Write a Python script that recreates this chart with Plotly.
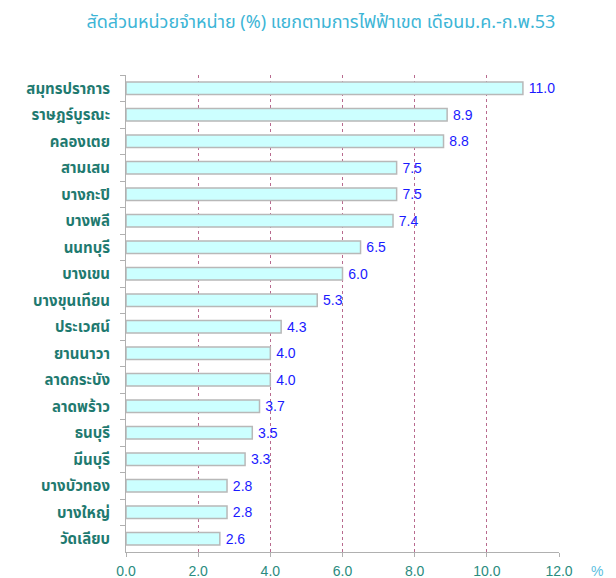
import plotly.graph_objects as go

# share of units sold (%) by district office, Jan-Feb 53
districts = ["สมุทรปราการ", "ราษฎร์บูรณะ", "คลองเตย", "สามเสน", "บางกะปิ", "บางพลี",
             "นนทบุรี", "บางเขน", "บางขุนเทียน", "ประเวศน์", "ยานนาวา", "ลาดกระบัง",
             "ลาดพร้าว", "ธนบุรี", "มีนบุรี", "บางบัวทอง", "บางใหญ่", "วัดเลียบ"]
shares = [11.0, 8.9, 8.8, 7.5, 7.5, 7.4, 6.5, 6.0, 5.3, 4.3, 4.0, 4.0, 3.7, 3.5, 3.3, 2.8, 2.8, 2.6]
x_ticks = [0, 2, 4, 6, 8, 10, 12]

title = "สัดส่วนหน่วยจำหน่าย (%) แยกตามการไฟฟ้าเขต เดือนม.ค.-ก.พ.53"

fig = go.Figure(go.Bar(
    x=shares,
    y=districts,
    orientation="h",
    marker=dict(color="#ccffff", line=dict(color="#b8b8b8", width=1.5)),
    text=[f"\u2009{v:.1f}" for v in shares],  # thin space for a small gap after the bar
    textposition="outside",
    constraintext="none",
    textfont=dict(family="Liberation Sans, Arial", size=14, color="#1a1aff"),
    cliponaxis=False,
    width=0.48,
))

# page body adds an 8px offset, margins are adjusted for it
fig.update_layout(
    width=616, height=578,
    margin=dict(l=118, r=65, t=67, b=34),
    plot_bgcolor="white", paper_bgcolor="white",
    showlegend=False,
    title=dict(text=title, x=0.508, xanchor="center", y=0.977, yanchor="middle",
               font=dict(family="Tahoma, Noto Sans Thai, Liberation Sans", size=18, color="#3db5d6")),
    xaxis=dict(range=[0, 12], tickvals=x_ticks, ticktext=[f"{v:.1f}" for v in x_ticks],
               showgrid=True, gridcolor="#b86a8e", griddash="dot", gridwidth=1,
               zeroline=False, showline=True, linecolor="#b0b0b0", linewidth=1,
               ticks="outside", ticklen=4, tickcolor="#b0b0b0", automargin=False,
               ticklabelstandoff=2,
               tickfont=dict(family="Liberation Sans, Arial", size=14, color="#2a8c80")),
    yaxis=dict(autorange="reversed", showline=True, linecolor="#b0b0b0", linewidth=1,
               ticks="outside", ticklen=5, tickcolor="#b0b0b0", tickson="boundaries",
               showgrid=False, ticklabelstandoff=12, automargin=False,
               tickfont=dict(family="Tahoma, Noto Sans Thai, Liberation Sans", size=15, color="#1f7a70",
                             weight="bold")),
)

fig.add_annotation(text="%", x=1.088, y=-0.040, xref="paper", yref="paper",
                   xanchor="center", yanchor="middle",
                   showarrow=False, font=dict(family="Liberation Sans, Arial", size=14, color="#5cc0e0"))

fig.write_html("out.html")
